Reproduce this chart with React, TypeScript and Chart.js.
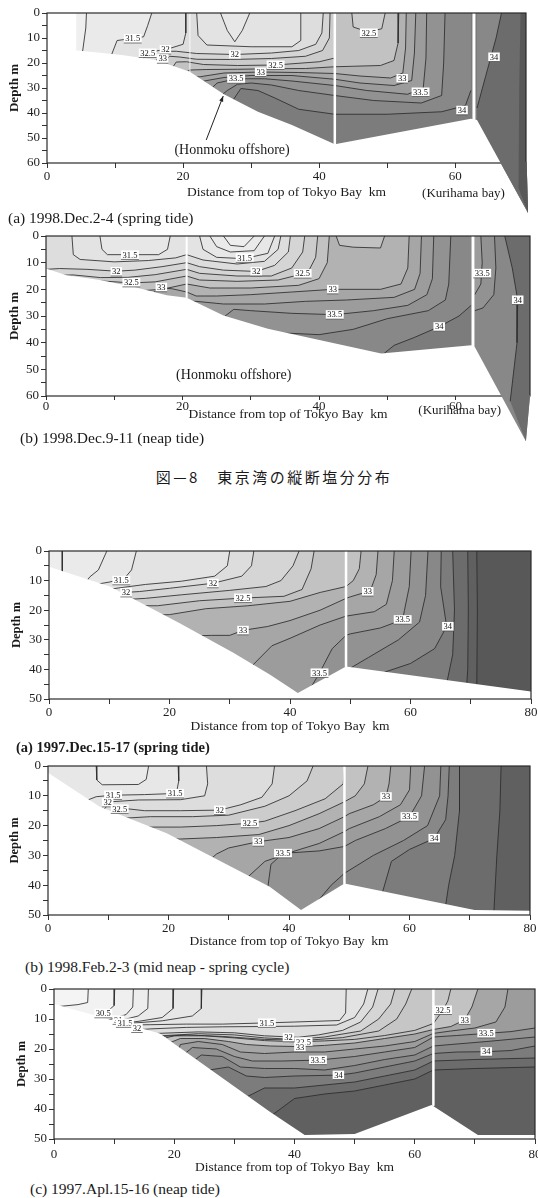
import React, { useEffect, useRef } from "react";
import { Chart, registerables } from "chart.js";

Chart.register(...registerables);

type Pt = [number, number];
type Contour = { level: number; pts: Pt[] };
type Label = { t: string; x: number; d: number };
type Sep = { x: number; d: number; w: number; alpha?: number };
type Note = { t: string; x: number; d?: number; dy?: number; size: number };

const SERIF = "'Liberation Serif', 'DejaVu Serif', serif";
const X_TITLE = "Distance from top of Tokyo Bay  km";
const Y_TITLE = "Depth m";

// ================= (a) 1998.Dec.2-4 (spring tide) =================
const A_SEABED: Pt[] = [[0, 0], [4.3, 0], [4.3, 15], [6, 15.4], [11, 16.8], [16, 18.8], [21, 23.5], [26, 32.5], [31, 39.5], [36, 44.8], [42.3, 52.5], [62.3, 42.3], [63.2, 42.8], [70.7, 80]];
const A_CONTOURS: Contour[] = [
  { level: 31.0, pts: [[5.8, 0], [5.7, 6], [5.4, 12], [5.2, 16]] },
  { level: 31.5, pts: [[15.4, 0], [14.8, 5], [14.2, 9.5], [12.5, 10.2], [10.3, 11], [9.5, 16.6]] },
  { level: 31.75, pts: [[20.4, 0], [20.4, 8], [20, 12.5], [18, 14.2], [15.5, 15.5], [14, 18.4]] },
  { level: 32.0, pts: [[40.6, 0], [40.4, 8], [39.5, 12.5], [37, 15], [33, 16], [27.6, 16.6], [22, 16.2], [19, 15.3], [17, 15.3], [16, 19.2]] },
  { level: 32.25, pts: [[41.6, 0], [41.5, 10], [40.5, 15], [38, 17.3], [33, 18.2], [27, 18.6], [22, 18.5], [19.5, 17.6], [18, 17.3], [17.2, 20]] },
  { level: 32.5, pts: [[42.3, 0], [42.3, 18], [40, 19.5], [33.6, 20.8], [28, 21], [23, 20.6], [20.5, 19.5], [19, 19.6], [18.5, 21.6]] },
  { level: 32.75, pts: [[51.7, 0], [51.6, 12], [51, 19], [49, 21], [45, 21.3], [42.3, 21.5], [38, 22.2], [33, 22.3], [28, 22.5], [23.5, 22.6], [21, 22.8], [20.3, 23.8]] },
  { level: 33.0, pts: [[52.8, 0], [52.7, 14], [52.3, 24], [50.5, 26], [46, 25.2], [42.3, 24.2], [37, 23.8], [31.4, 23.6], [26, 24], [22.5, 25.5], [21.6, 25.6]] },
  { level: 33.25, pts: [[54.2, 0], [54, 16], [53.6, 27], [51, 29], [46, 28], [42.3, 26.5], [36, 25], [30, 25], [26, 25.8], [23.5, 27], [22.5, 27.6]] },
  { level: 33.5, pts: [[55.8, 0], [55.7, 18], [55.3, 30], [53, 32.5], [47, 31], [42.3, 29], [36, 27.2], [32, 26.3], [27.8, 26.3], [25, 28], [24, 30.6]] },
  { level: 33.75, pts: [[58.5, 0], [58.3, 20], [58, 33], [55, 36], [48, 35], [42.3, 33], [37, 31], [33, 28.8], [30, 28], [28, 28.5], [26.5, 31], [25.8, 32.6]] },
  { level: 34.0, pts: [[62.3, 31], [61.5, 37], [58, 39.5], [50, 40.5], [42.3, 40.5], [37, 38.5], [33.5, 34], [31, 31], [28.5, 30.2], [27.3, 35]] },
];
const A_POCKETS: Contour[] = [
  { level: 31.75, pts: [[22, 0], [22.2, 9], [23.5, 12.8], [30, 13.5], [36, 13.5], [37.3, 11], [37.3, 0]] },
  { level: 31.5, pts: [[25.5, 0], [26.5, 7], [27.6, 11.5], [28.7, 7], [29.8, 0]] },
  { level: 32.5, pts: [[44.8, 0], [45, 5.6], [47.2, 7.6], [49.2, 6.3], [49.7, 0]] },
];
const A_OVERLAYS: Contour[] = [
  { level: 33.75, pts: [[63.2, 0], [70.4, 0], [70.5, 60], [70.7, 80], [63.2, 42.8]] },
  { level: 34.25, pts: [[66.8, 0], [70.4, 0], [70.5, 60], [70.7, 80], [63.2, 42.8], [63.2, 38], [64.5, 25], [66, 10]] },
  { level: 34.75, pts: [[69.6, 0], [70.4, 0], [70.5, 60], [70.7, 80], [69.3, 70], [69.4, 30]] },
];
const A_LINES: Pt[][] = [[[66.8, 0], [66, 10], [64.5, 25], [63.2, 38]]];
const A_LABELS: Label[] = [
  { t: "31.5", x: 12.6, d: 10.2 }, { t: "32.5", x: 14.8, d: 16.0 }, { t: "32", x: 17.4, d: 14.6 },
  { t: "33", x: 17.0, d: 18.3 }, { t: "32", x: 27.6, d: 16.7 }, { t: "32.5", x: 33.6, d: 20.8 },
  { t: "33", x: 31.4, d: 23.6 }, { t: "33.5", x: 27.8, d: 26.3 }, { t: "32.5", x: 47.3, d: 8.0 },
  { t: "33", x: 52.2, d: 26.2 }, { t: "33.5", x: 54.9, d: 31.6 }, { t: "34", x: 61.0, d: 38.9 },
  { t: "34", x: 65.7, d: 17.6 },
];
const A_SEPS: Sep[] = [{ x: 21, d: 23.5, w: 1.5, alpha: 0.55 }, { x: 42.3, d: 52.5, w: 2.5 }, { x: 62.75, d: 42.6, w: 3 }];
const A_NOTES: Note[] = [
  { t: "(Honmoku offshore)", x: 27.2, d: 55, size: 14 },
  { t: "(Kurihama bay)", x: 61.2, dy: 30.5, size: 13 },
];
const A_ARROW: Pt[] = [[23.4, 50.8], [25.9, 33.2]];

// ================= (b) 1998.Dec.9-11 (neap tide) =================
const B_SEABED: Pt[] = [[0, 12.2], [3, 14.7], [7.9, 16.5], [12.8, 19], [17.7, 22.2], [20.6, 23.2], [26, 29.8], [32.5, 34.8], [49.1, 44.1], [62.3, 41], [62.8, 41.5], [70.3, 77]];
const B_CONTOURS: Contour[] = [
  { level: 32.0, pts: [[35.8, 0], [35.5, 6], [33.5, 11], [30.8, 13.3], [26, 12.8], [22.5, 11.5], [20.6, 10], [17, 11.5], [13, 12.8], [10.3, 13.2], [6, 12.5], [2, 12.2], [0, 12.5]] },
  { level: 32.25, pts: [[37.9, 0], [37.6, 6], [36, 12], [33, 15], [28, 15], [22.5, 14], [20.6, 12.5], [16, 14.5], [12, 15.5], [8, 15.6], [4, 14.6], [2.5, 14.7]] },
  { level: 32.5, pts: [[39.8, 0], [39.5, 8], [38.5, 13], [37.6, 14.2], [34, 16.5], [28, 17], [22.5, 16.5], [20.6, 15], [16, 17.2], [12.5, 17.6], [9, 17], [7.6, 16.8]] },
  { level: 32.75, pts: [[41.5, 0], [41.2, 10], [40, 16], [37, 18.5], [30, 19.5], [24, 19.5], [20.6, 18], [17, 20], [14, 20.5]] },
  { level: 33.0, pts: [[53.2, 0], [53, 12], [52, 18], [49, 20], [42, 20], [36, 21], [30, 22], [25, 22.5], [22, 22.5], [20.6, 21], [18.5, 19.8], [16.9, 19.4], [15.5, 21.5]] },
  { level: 33.25, pts: [[55, 0], [54.8, 14], [54, 20], [51, 23], [44, 24], [38, 24.5], [32, 25.5], [26, 25.5], [22, 24.5], [20.8, 24.5]] },
  { level: 33.5, pts: [[56.8, 0], [56.6, 16], [55.8, 22], [53, 26], [48, 28], [42.3, 29.5], [36, 29], [30, 28], [27.5, 27.5], [26, 30.5]] },
  { level: 33.75, pts: [[59.3, 0], [59, 18], [58.5, 24], [56, 28], [50, 31], [45, 35], [40, 37], [36, 36.5], [33.8, 36.5]] },
  { level: 34.0, pts: [[62.3, 26], [60.5, 30], [57.6, 34], [54, 38], [51, 41], [49.3, 44.5]] },
];
const B_POCKETS: Contour[] = [
  { level: 31.75, pts: [[3.8, 0], [4, 7], [5, 8.8], [10, 9.7], [15, 9.2], [19, 8.2], [20.6, 7], [23, 9], [28, 10.5], [32, 9.5], [34, 5], [34.4, 0]] },
  { level: 31.5, pts: [[7.9, 0], [8.2, 5], [9, 7], [16.5, 7], [17.8, 5], [18.2, 0]] },
  { level: 31.5, pts: [[22.5, 0], [23, 5], [25, 8], [29, 8.5], [32.5, 6.5], [33.5, 0]] },
  { level: 31.25, pts: [[24, 0], [25, 4], [27, 6], [30.5, 5.5], [32, 0]] },
  { level: 31.0, pts: [[26, 0], [27, 3.5], [29, 4], [30.5, 0]] },
  { level: 32.75, pts: [[42.5, 0], [43, 3.5], [45, 4.2], [49, 4.5], [49.6, 0]] },
];
const B_OVERLAYS: Contour[] = [
  { level: 33.75, pts: [[62.8, 0], [70.9, 0], [70.9, 60], [70.3, 77], [62.8, 41.5]] },
  { level: 33.5, pts: [[62.8, 0], [65.7, 0], [65.9, 12], [65.6, 22], [64, 27], [62.8, 28]] },
  { level: 33.25, pts: [[62.8, 0], [63.7, 0], [63.9, 10], [63.7, 18], [62.8, 22]] },
  { level: 34.25, pts: [[67.2, 0], [70.9, 0], [70.9, 60], [70.3, 77], [68, 62], [69, 40], [69.1, 24], [68.3, 12]] },
];
const B_LINES: Pt[][] = [
  [[63.7, 0], [63.9, 10], [63.7, 18], [62.8, 22]],
  [[65.7, 0], [65.9, 12], [65.6, 22], [64, 27], [62.8, 28]],
  [[67.2, 0], [68.3, 12], [69.1, 24], [69, 40], [68, 62]],
];
const B_LABELS: Label[] = [
  { t: "31.5", x: 12.3, d: 7.1 }, { t: "32", x: 10.3, d: 13.3 }, { t: "32.5", x: 12.5, d: 17.4 },
  { t: "33", x: 16.9, d: 19.2 }, { t: "31.5", x: 29.1, d: 8.2 }, { t: "32", x: 30.8, d: 13.3 },
  { t: "32.5", x: 37.6, d: 14.1 }, { t: "33", x: 42, d: 20 }, { t: "33.5", x: 42.3, d: 29.5 },
  { t: "34", x: 57.6, d: 34 }, { t: "33.5", x: 63.9, d: 14 }, { t: "34", x: 69.1, d: 24 },
];
const B_SEPS: Sep[] = [{ x: 20.6, d: 23.2, w: 2 }, { x: 62.55, d: 41.3, w: 3 }];
const B_NOTES: Note[] = [
  { t: "(Honmoku offshore)", x: 27.5, d: 52.3, size: 14 },
  { t: "(Kurihama bay)", x: 60.6, dy: 15, size: 13 },
];

// ================= (a) 1997.Dec.15-17 (spring tide) =================
const C_SEABED: Pt[] = [[0, 5.3], [10.1, 12], [21.7, 24.4], [30.6, 34.4], [36.7, 41.8], [41.3, 48], [49.3, 39], [80, 47.5]];
const C_CONTOURS: Contour[] = [
  { level: 31.0, pts: [[2.2, 0], [2.2, 4], [2.2, 7.2]] },
  { level: 31.25, pts: [[9.6, 0], [8.2, 6.4], [6.8, 8.7], [6.3, 10]] },
  { level: 31.5, pts: [[14.5, 0], [13.7, 6.4], [12.5, 9.3], [10, 10.5], [8, 11.2]] },
  { level: 31.75, pts: [[30, 0], [29.6, 5], [27.5, 8.5], [22, 10.2], [16, 11.3], [11.5, 12.5], [10.5, 12.8]] },
  { level: 32.0, pts: [[34, 0], [33.6, 5], [32, 8.5], [27.2, 10.9], [20, 12.6], [15, 13.7], [12.6, 14], [11.6, 14.4]] },
  { level: 32.25, pts: [[41.5, 0], [40.5, 5], [38.5, 10], [36, 12], [30, 13.3], [22, 14.8], [16, 16], [13.5, 16.3]] },
  { level: 32.5, pts: [[44, 0], [43.5, 6], [42, 13], [39, 15.3], [32.2, 15.9], [25, 16.8], [18, 18.5], [15.3, 18.5]] },
  { level: 32.75, pts: [[51.8, 0], [51.5, 6], [50.5, 10], [49.3, 12], [45, 14], [40, 17], [33, 18.5], [26, 19.5], [20, 21.5], [18.3, 21.6]] },
  { level: 33.0, pts: [[54.6, 0], [54.3, 8], [53.5, 12.5], [52.9, 13.7], [50, 15.5], [49.3, 16], [45, 20], [40, 23.5], [36.3, 25.5], [32.2, 26.8], [30, 28.5], [27, 28.5], [25.3, 28.6]] },
  { level: 33.25, pts: [[57.3, 0], [57, 10], [56, 18], [54, 20.5], [49.3, 22], [45, 25], [40, 29.5], [37, 32], [33.8, 38.6]] },
  { level: 33.5, pts: [[60.1, 0], [59.8, 12], [59, 20], [58.7, 23.2], [55, 26], [50, 28], [49.3, 28.5], [47, 33], [44.9, 41.2], [43.5, 46]] },
  { level: 33.75, pts: [[62.9, 0], [62.5, 15], [61.5, 24], [58, 30], [53, 36], [50, 39.6]] },
  { level: 34.0, pts: [[65.1, 0], [65, 12], [66, 25.5], [64, 33], [60, 38], [55, 41.4]] },
  { level: 34.25, pts: [[67, 0], [67.3, 20], [67, 35], [66, 44.8]] },
  { level: 34.5, pts: [[69.5, 0], [69.6, 20], [69.5, 40], [69.3, 46]] },
  { level: 34.75, pts: [[71, 0], [71.1, 20], [71, 46.5]] },
];
const C_LABELS: Label[] = [
  { t: "31.5", x: 12, d: 9.9 }, { t: "32", x: 12.8, d: 14 }, { t: "32", x: 27.2, d: 10.9 },
  { t: "32.5", x: 32.2, d: 15.9 }, { t: "33", x: 32.2, d: 26.8 }, { t: "33", x: 52.9, d: 13.7 },
  { t: "33.5", x: 58.7, d: 23.2 }, { t: "34", x: 66.2, d: 25.5 }, { t: "33.5", x: 44.9, d: 41.2 },
];
const C_SEPS: Sep[] = [{ x: 49.3, d: 39, w: 2.5 }];

// ================= (b) 1998.Feb.2-3 (mid neap - spring cycle) =================
const D_SEABED: Pt[] = [[0, 2.3], [8.6, 13.7], [19.7, 22.6], [36.8, 40.5], [42, 48.3], [49.2, 39.4], [70.8, 48.3], [80, 48.6]];
const D_CONTOURS: Contour[] = [
  { level: 31.5, pts: [[21.6, 0], [21.7, 5], [21.3, 9.2], [16, 9.6], [10.8, 9.8], [8, 10.3], [6.5, 11.5]] },
  { level: 31.75, pts: [[26.3, 0], [26.5, 6], [26, 10], [22, 11.3], [15, 11.4], [10.5, 12], [9.3, 14.5]] },
  { level: 32.0, pts: [[37.6, 0], [37.2, 6], [35.5, 10.5], [32, 13], [28.5, 14.8], [22, 15], [16, 15], [12.5, 14.2], [11, 16.2]] },
  { level: 32.25, pts: [[44, 0], [43, 5], [40, 10], [36, 13.5], [30, 16.5], [24, 17], [17, 17], [12.8, 17.5]] },
  { level: 32.5, pts: [[49.2, 0], [49, 6], [46, 11], [41, 15], [36, 18.5], [33.5, 19.2], [28, 20], [22, 20.5], [16.3, 20.5]] },
  { level: 32.75, pts: [[53.1, 0], [52.5, 6], [51, 10], [49.2, 12], [45, 16], [40, 20], [35, 23], [28, 24], [22, 24.5], [20.5, 24.5]] },
  { level: 33.0, pts: [[56.9, 0], [56.6, 6], [56.1, 10.3], [54, 13], [50, 16], [49.2, 17], [45, 21], [40, 24], [34.9, 25.4], [30, 27.5], [28, 29.5], [27, 31.2]] },
  { level: 33.25, pts: [[60.2, 0], [60, 8], [58.5, 13], [55, 17], [50, 21], [49.2, 22], [45, 26], [41, 28.5], [36, 32], [33.2, 37.2]] },
  { level: 33.5, pts: [[62.5, 0], [62, 10], [60, 17], [56, 21], [51, 25], [49.2, 27], [45, 28.5], [39, 29.3], [37, 33], [36.5, 40.5]] },
  { level: 33.75, pts: [[65.2, 0], [65, 10], [63, 20], [59, 25], [54, 30], [50, 35], [49.2, 36], [47, 40], [44.5, 46]] },
  { level: 34.0, pts: [[66.6, 0], [66.4, 10], [66, 18], [64.1, 24.3], [60, 28], [57, 32], [55.5, 42.5]] },
  { level: 34.25, pts: [[68.3, 0], [68.3, 15], [67.5, 30], [66.5, 40], [66, 46.8]] },
  { level: 34.5, pts: [[75.2, 0], [75, 15], [74.5, 30], [74, 49]] },
];
const D_POCKETS: Contour[] = [
  { level: 31.25, pts: [[8, 0], [8.1, 4.7], [9, 6.3], [15, 6.2], [16.3, 4.5], [16.7, 0]] },
];
const D_LABELS: Label[] = [
  { t: "31.5", x: 10.8, d: 9.7 }, { t: "32", x: 9.9, d: 12.2 }, { t: "32.5", x: 11.9, d: 14.4 },
  { t: "31.5", x: 21.1, d: 9.2 }, { t: "32", x: 28.5, d: 14.8 }, { t: "32.5", x: 33.5, d: 19.2 },
  { t: "33", x: 34.9, d: 25.4 }, { t: "33.5", x: 39, d: 29.3 }, { t: "33", x: 56.1, d: 10.3 },
  { t: "33.5", x: 60, d: 17 }, { t: "34", x: 64.1, d: 24.3 },
];
const D_SEPS: Sep[] = [{ x: 49.2, d: 39.4, w: 2.5 }];

// ================= (c) 1997.Apl.15-16 (neap tide) =================
const E_SEABED: Pt[] = [[0, 5], [17.6, 14.8], [35.9, 40.9], [41.7, 48.7], [50, 48.3], [62.8, 38.7], [70.5, 48.7], [80, 48.7]];
const E_CONTOURS: Contour[] = [
  { level: 30.25, pts: [[5.7, 0], [5.6, 4.5], [4, 5.2], [1, 5.8], [0.6, 6.2]] },
  { level: 30.5, pts: [[10.1, 0], [10, 5.5], [9, 7.3], [8.2, 8.1], [7.5, 9.5]] },
  { level: 30.75, pts: [[13.2, 0], [13.1, 6], [12, 8.5], [10, 9.8], [9, 10.3]] },
  { level: 31.0, pts: [[15.7, 0], [15.6, 6.5], [14, 9], [12, 10], [10.7, 10.5], [10, 11]] },
  { level: 31.25, pts: [[19.9, 0], [19.8, 6.5], [18, 9.5], [14, 10.8], [11.5, 11.4], [10.8, 11.5]] },
  { level: 31.4, pts: [[24.6, 0], [24.5, 6.5], [23, 9], [18, 10.6], [13, 11.4], [11.8, 11.9]] },
  { level: 31.5, pts: [[48.6, 0], [48.5, 8], [47.5, 10.5], [40, 11], [35.4, 11.3], [28, 11.7], [22, 11.7], [16, 11.9], [12.5, 12], [12, 12.2]] },
  { level: 31.75, pts: [[52.2, 0], [51.5, 5], [50, 9.5], [47, 12], [40, 12.4], [35, 12.5], [28, 12.6], [22, 12.8], [16, 13.3], [14.5, 13.5]] },
  { level: 32.0, pts: [[53.9, 0], [53, 6], [51, 11], [48, 13.8], [44, 15.3], [40.6, 16.1], [35, 15.6], [30, 14.6], [24, 14.3], [17.2, 14.8]] },
  { level: 32.25, pts: [[56.7, 0], [56, 5], [54, 10], [51, 14], [45, 16], [40, 16.8], [35, 16.3], [30, 15.3], [24, 14.9], [17.8, 15.6]] },
  { level: 32.4, pts: [[59.5, 0], [58.5, 5], [57, 10], [54, 14], [48, 16.2], [42, 17.1], [35, 16.8], [28, 15.8], [22, 15.3], [18.2, 15.8]] },
  { level: 32.5, pts: [[66, 0], [65.5, 4], [64.7, 7], [63.1, 11.5], [60, 13.8], [55, 15.5], [50, 16.8], [45, 17.3], [40.3, 17.6], [35, 17.2], [30, 16.3], [25, 15.6], [20, 15.6], [18.6, 16.3]] },
  { level: 33.0, pts: [[70.5, 0], [69.5, 6], [68.3, 10.3], [66, 12.5], [63.1, 13.5], [60, 15], [55, 16.5], [50, 18], [45, 18.8], [40.9, 19.2], [36, 19], [32, 18.5], [29, 17.5], [25, 16.5], [21, 16.5], [19.4, 17.8]] },
  { level: 33.25, pts: [[75.5, 0], [75, 6], [73.5, 11], [70, 13], [66, 14], [63.1, 14.8], [60, 17.5], [55, 19], [50, 20], [45, 21], [40, 21], [35, 21.5], [31, 21], [28, 18.5], [24, 17.5], [21, 18.5], [20.8, 20]] },
  { level: 33.5, pts: [[80, 13], [76, 14.2], [71.9, 14.8], [67, 15.5], [63.1, 16], [60, 19.5], [55, 21], [50, 22.5], [43.9, 23.7], [38, 24], [33, 24], [30, 22.5], [27, 20], [23, 19.5], [21.8, 21.5]] },
  { level: 33.75, pts: [[80, 16], [72, 17.5], [66, 18.5], [63.1, 19], [60, 22], [55, 23.5], [50, 25.5], [45, 27], [40, 26.5], [35, 26.5], [31, 26], [28, 22.5], [24.5, 22], [23.5, 23.5]] },
  { level: 34.0, pts: [[80, 19], [76, 20.5], [71.9, 20.9], [67, 21], [63.1, 21.5], [60, 24], [55, 26], [50, 28], [47.3, 28.7], [40, 29], [35, 29.5], [32, 29], [29, 26], [25.8, 27]] },
  { level: 34.25, pts: [[80, 23], [70, 23.5], [63.1, 24], [60, 27], [55, 29], [50, 31], [45, 32], [40, 33], [35, 33], [32, 36]] },
  { level: 34.5, pts: [[80, 26], [70, 26.5], [63.1, 27], [60, 30], [55, 32], [50, 34], [45, 35], [40, 36.5], [36.3, 42]] },
];
const E_LABELS: Label[] = [
  { t: "30.5", x: 8.2, d: 8.1 }, { t: "31", x: 10.7, d: 10.3 }, { t: "31.5", x: 11.8, d: 11.3 },
  { t: "32", x: 13.8, d: 13.0 }, { t: "31.5", x: 35.4, d: 11.3 }, { t: "32", x: 39, d: 16.1 },
  { t: "32.5", x: 41.5, d: 17.6 }, { t: "33", x: 40.9, d: 19.4 }, { t: "33.5", x: 43.9, d: 23.7 },
  { t: "34", x: 47.3, d: 28.7 }, { t: "32.5", x: 64.7, d: 7 }, { t: "33", x: 68.3, d: 10.3 },
  { t: "33.5", x: 71.9, d: 14.8 }, { t: "34", x: 71.9, d: 20.9 },
];
const E_SEPS: Sep[] = [{ x: 63.1, d: 38.7, w: 2.5 }];

// ================= captions =================
const CAPTIONS = [
  { t: "(a) 1998.Dec.2-4 (spring tide)", x: 8, y: 218, size: 15.5, bold: false },
  { t: "(b) 1998.Dec.9-11 (neap tide)", x: 20, y: 438, size: 15.5, bold: false },
  { t: "(a) 1997.Dec.15-17 (spring tide)", x: 16, y: 747, size: 14.5, bold: true },
  { t: "(b) 1998.Feb.2-3 (mid neap - spring cycle)", x: 25, y: 967, size: 15.5, bold: false },
  { t: "(c) 1997.Apl.15-16 (neap tide)", x: 30, y: 1189, size: 15.5, bold: false },
];
const FIG_TITLE = "図—8　東京湾の縦断塩分分布";

// ================= styling =================
const GRAY_STOPS: Pt[] = [
  [30, 244], [30.5, 239], [31, 234], [31.5, 227], [31.75, 221], [32, 213], [32.25, 204], [32.5, 194],
  [32.75, 178], [33, 166], [33.25, 156], [33.5, 146], [33.75, 136], [34, 124], [34.25, 108], [34.5, 96], [34.75, 88],
];
function gray(level: number): string {
  let v = GRAY_STOPS[0][1];
  if (level >= GRAY_STOPS[GRAY_STOPS.length - 1][0]) v = GRAY_STOPS[GRAY_STOPS.length - 1][1];
  else {
    for (let i = 0; i < GRAY_STOPS.length - 1; i++) {
      const [l0, g0] = GRAY_STOPS[i];
      const [l1, g1] = GRAY_STOPS[i + 1];
      if (level >= l0 && level <= l1) {
        v = g0 + ((level - l0) / (l1 - l0)) * (g1 - g0);
        break;
      }
    }
  }
  const c = Math.round(v);
  return `rgb(${c},${c},${c})`;
}

type Panel = {
  key: string;
  xMax: number;
  yMax: number;
  plot: { left: number; top: number; right: number; bottom: number };
  tickLen: number;
  tickPad: number;
  xAxisH: number;
  yTitleX: number;
  yTitleSize: number;
  extraBottom: number;
  base: number;
  seabed: Pt[];
  contours: Contour[];
  pockets: Contour[];
  overlays: Contour[];
  lines: Pt[][];
  labels: Label[];
  seps: Sep[];
  notes: Note[];
  arrow?: Pt[];
  spill: boolean;
};

const PANELS: Panel[] = [
  {
    key: "A", xMax: 70.4, yMax: 60, plot: { left: 47, top: 13, right: 526, bottom: 163 },
    tickLen: 5, tickPad: 1, xAxisH: 38, yTitleX: 15, yTitleSize: 13, extraBottom: 56, base: 30.5,
    seabed: A_SEABED, contours: A_CONTOURS, pockets: A_POCKETS, overlays: A_OVERLAYS, lines: A_LINES,
    labels: A_LABELS, seps: A_SEPS, notes: A_NOTES, arrow: A_ARROW, spill: true,
  },
  {
    key: "B", xMax: 70.9, yMax: 60, plot: { left: 46, top: 236, right: 530, bottom: 396 },
    tickLen: 4, tickPad: -1, xAxisH: 26.5, yTitleX: 15, yTitleSize: 13, extraBottom: 50, base: 31.75,
    seabed: B_SEABED, contours: B_CONTOURS, pockets: B_POCKETS, overlays: B_OVERLAYS, lines: B_LINES,
    labels: B_LABELS, seps: B_SEPS, notes: B_NOTES, spill: true,
  },
  {
    key: "C", xMax: 80, yMax: 50, plot: { left: 49, top: 551, right: 531, bottom: 699 },
    tickLen: 5, tickPad: 1, xAxisH: 35.5, yTitleX: 16.7, yTitleSize: 12.5, extraBottom: 40, base: 30.75,
    seabed: C_SEABED, contours: C_CONTOURS, pockets: [], overlays: [], lines: [],
    labels: C_LABELS, seps: C_SEPS, notes: [], spill: false,
  },
  {
    key: "D", xMax: 80, yMax: 50, plot: { left: 48, top: 766, right: 530, bottom: 915 },
    tickLen: 5, tickPad: 1, xAxisH: 34.8, yTitleX: 15, yTitleSize: 12.5, extraBottom: 40, base: 31.25,
    seabed: D_SEABED, contours: D_CONTOURS, pockets: D_POCKETS, overlays: [], lines: [],
    labels: D_LABELS, seps: D_SEPS, notes: [], spill: false,
  },
  {
    key: "E", xMax: 80, yMax: 50, plot: { left: 54, top: 989, right: 535, bottom: 1139 },
    tickLen: 5, tickPad: 3, xAxisH: 37, yTitleX: 21.7, yTitleSize: 12.5, extraBottom: 40, base: 30,
    seabed: E_SEABED, contours: E_CONTOURS, pockets: [], overlays: [], lines: [],
    labels: E_LABELS, seps: E_SEPS, notes: [], spill: false,
  },
];

const PAD_TOP = 12;
const BIG = 400;
const SKY = -60;
const W = 538;

const toData = (pts: Pt[]) => pts.map(([x, d]) => ({ x, y: d }));
const poly = (pts: Pt[], color: string) => ({
  data: toData(pts),
  fill: "shape",
  backgroundColor: color,
  borderColor: "rgba(0,0,0,0)",
  borderWidth: 0,
  pointRadius: 0,
  tension: 0,
});
const line = (pts: Pt[], color = "#2c2c2c", width = 0.85) => ({
  data: toData(pts),
  fill: false,
  borderColor: color,
  borderWidth: width,
  borderJoinStyle: "round",
  pointRadius: 0,
  tension: 0,
});

function buildDatasets(p: Panel) {
  const out: any[] = [];
  const add = (ds: any) => {
    ds.order = -out.length;
    out.push(ds);
  };
  const R = p.xMax;
  add(poly([[0, SKY], [R, SKY], [R, BIG], [0, BIG]], gray(p.base)));
  [...p.contours].sort((a, b) => a.level - b.level).forEach((c) => {
    const s = c.pts[0];
    const e = c.pts[c.pts.length - 1];
    add(poly([...c.pts, [e[0], BIG], [R, BIG], [R, SKY], [s[0], SKY]], gray(c.level)));
  });
  [...p.pockets].sort((a, b) => b.level - a.level).forEach((c) => add(poly(c.pts, gray(c.level - 0.25))));
  p.overlays.forEach((o) => add(poly(o.pts, gray(o.level))));
  [...p.contours, ...p.pockets].forEach((c) => add(line(c.pts)));
  p.lines.forEach((l) => add(line(l)));
  const s0 = p.seabed[0];
  const s1 = p.seabed[p.seabed.length - 1];
  add(poly([...p.seabed, [s1[0], BIG], [s0[0], BIG]], "#ffffff"));
  p.seps.forEach((s) => add(line([[s.x, 0], [s.x, s.d]], `rgba(255,255,255,${s.alpha ?? 1})`, s.w)));
  return out;
}

function makeDecor(p: Panel) {
  return {
    id: "decor" + p.key,
    afterDatasetsDraw(chart: any) {
      const { ctx, chartArea: a } = chart;
      const xs = chart.scales.x;
      const ys = chart.scales.y;
      const X = (v: number) => xs.getPixelForValue(v);
      const Y = (v: number) => ys.getPixelForValue(v);
      ctx.save();
      ctx.strokeStyle = "#2a2a2a";
      ctx.lineWidth = 1.2;
      ctx.strokeRect(a.left, a.top, a.right - a.left, a.bottom - a.top);
      if (p.spill) {
        ctx.save();
        ctx.beginPath();
        ctx.rect(0, a.bottom - 1, chart.width, chart.height);
        ctx.clip();
        for (const o of p.overlays) {
          ctx.fillStyle = gray(o.level);
          ctx.beginPath();
          o.pts.forEach(([x, d], i) => (i ? ctx.lineTo(X(x), Y(d)) : ctx.moveTo(X(x), Y(d))));
          ctx.closePath();
          ctx.fill();
        }
        ctx.strokeStyle = "#2c2c2c";
        ctx.lineWidth = 0.85;
        for (const l of p.lines) {
          ctx.beginPath();
          l.forEach(([x, d], i) => (i ? ctx.lineTo(X(x), Y(d)) : ctx.moveTo(X(x), Y(d))));
          ctx.stroke();
        }
        ctx.restore();
      }
      // contour labels
      ctx.font = `8.5px ${SERIF}`;
      ctx.textAlign = "center";
      ctx.textBaseline = "middle";
      for (const l of p.labels) {
        const px = X(l.x);
        const py = Y(l.d);
        const w = ctx.measureText(l.t).width + 3;
        const h = 9;
        ctx.fillStyle = "#ffffff";
        ctx.fillRect(px - w / 2, py - h / 2, w, h);
        ctx.strokeStyle = "#444";
        ctx.lineWidth = 0.7;
        ctx.beginPath();
        ctx.moveTo(px - w / 2, py + h / 2);
        ctx.lineTo(px + w / 2, py + h / 2);
        ctx.stroke();
        ctx.fillStyle = "#111";
        ctx.fillText(l.t, px, py + 0.5);
      }
      // notes
      for (const n of p.notes) {
        ctx.font = `${n.size}px ${SERIF}`;
        ctx.fillStyle = "#1a1a1a";
        const py = n.d !== undefined ? Y(n.d) : a.bottom + (n.dy ?? 0);
        ctx.fillText(n.t, X(n.x), py);
      }
      if (p.arrow) {
        const [p0, p1] = p.arrow;
        const x0 = X(p0[0]), y0 = Y(p0[1]), x1 = X(p1[0]), y1 = Y(p1[1]);
        ctx.strokeStyle = "#222";
        ctx.lineWidth = 1;
        ctx.beginPath();
        ctx.moveTo(x0, y0);
        ctx.lineTo(x1, y1);
        ctx.stroke();
        const ang = Math.atan2(y1 - y0, x1 - x0);
        const hl = 6;
        ctx.fillStyle = "#222";
        ctx.beginPath();
        ctx.moveTo(x1, y1);
        ctx.lineTo(x1 - hl * Math.cos(ang - 0.35), y1 - hl * Math.sin(ang - 0.35));
        ctx.lineTo(x1 - hl * Math.cos(ang + 0.35), y1 - hl * Math.sin(ang + 0.35));
        ctx.closePath();
        ctx.fill();
      }
      ctx.restore();
    },
  };
}

function SalinityChart({ p }: { p: Panel }) {
  const ref = useRef<HTMLCanvasElement>(null);
  const top = p.plot.top - PAD_TOP;
  const height = Math.round(p.plot.bottom + p.extraBottom - top);
  useEffect(() => {
    const canvas = ref.current;
    if (!canvas) return;
    const yTitleLH = p.yTitleSize * 1.2;
    const padLeft = p.yTitleX - yTitleLH / 2;
    const yAxisW = p.plot.left - padLeft;
    const padBottom = height - (p.plot.bottom - top) - p.xAxisH;
    const chart = new Chart(canvas, {
      type: "line",
      data: { datasets: buildDatasets(p) as any },
      options: {
        animation: false,
        responsive: false,
        devicePixelRatio: 1,
        events: [],
        layout: { padding: { left: padLeft, right: W - p.plot.right, top: p.plot.top - top, bottom: padBottom } },
        plugins: { legend: { display: false }, tooltip: { enabled: false } },
        scales: {
          x: {
            type: "linear",
            min: 0,
            max: p.xMax,
            afterFit: (s: any) => {
              s.height = p.xAxisH;
              s.paddingLeft = 0;
              s.paddingRight = 0;
            },
            ticks: {
              stepSize: 10,
              autoSkip: false,
              maxRotation: 0,
              includeBounds: false,
              padding: p.tickPad,
              color: "#1e1e1e",
              font: { family: SERIF, size: 13 },
              callback: (v: any) => (Math.abs(v / 20 - Math.round(v / 20)) < 1e-6 ? String(v) : ""),
            },
            grid: { drawOnChartArea: false, drawTicks: true, tickLength: p.tickLen, color: "#333" },
            border: { display: false },
            title: { display: true, text: X_TITLE, color: "#1a1a1a", font: { family: SERIF, size: 13.5 }, padding: 0 },
          },
          y: {
            type: "linear",
            min: 0,
            max: p.yMax,
            reverse: true,
            afterFit: (s: any) => {
              s.width = yAxisW;
              s.paddingTop = 0;
              s.paddingBottom = 0;
            },
            ticks: {
              stepSize: 5,
              autoSkip: false,
              padding: 2,
              color: "#1e1e1e",
              font: { family: SERIF, size: 13 },
              callback: (v: any) => (Math.abs(v / 10 - Math.round(v / 10)) < 1e-6 ? String(v) : ""),
            },
            grid: { drawOnChartArea: false, drawTicks: true, tickLength: 5, color: "#333" },
            border: { display: false },
            title: { display: true, text: Y_TITLE, color: "#1a1a1a", font: { family: SERIF, size: p.yTitleSize, weight: "bold" }, padding: 0 },
          },
        },
      } as any,
      plugins: [makeDecor(p)],
    });
    return () => chart.destroy();
  }, [p]);
  return (
    <canvas
      ref={ref}
      width={W}
      height={height}
      style={{ position: "absolute", left: 0, top, width: W, height }}
    />
  );
}

export default function App() {
  return (
    <div
      style={{
        position: "absolute",
        left: 0,
        top: 0,
        width: W,
        height: 1198,
        background: "#ffffff",
        overflow: "hidden",
        fontFamily: SERIF,
        color: "#1a1a1a",
      }}
    >
      {PANELS.map((p) => (
        <SalinityChart key={p.key} p={p} />
      ))}
      {CAPTIONS.map((c) => (
        <div
          key={c.t}
          style={{
            position: "absolute",
            left: c.x,
            top: c.y - 9,
            fontSize: c.size,
            lineHeight: "18px",
            whiteSpace: "nowrap",
            fontWeight: c.bold ? 700 : 400,
          }}
        >
          {c.t}
        </div>
      ))}
      <div
        style={{
          position: "absolute",
          left: 10,
          width: 528,
          top: 477 - 10,
          lineHeight: "20px",
          textAlign: "center",
          fontFamily: "'Noto Sans CJK JP', sans-serif",
          fontSize: 15,
          letterSpacing: 2.5,
          whiteSpace: "nowrap",
        }}
      >
        {FIG_TITLE}
      </div>
    </div>
  );
}
